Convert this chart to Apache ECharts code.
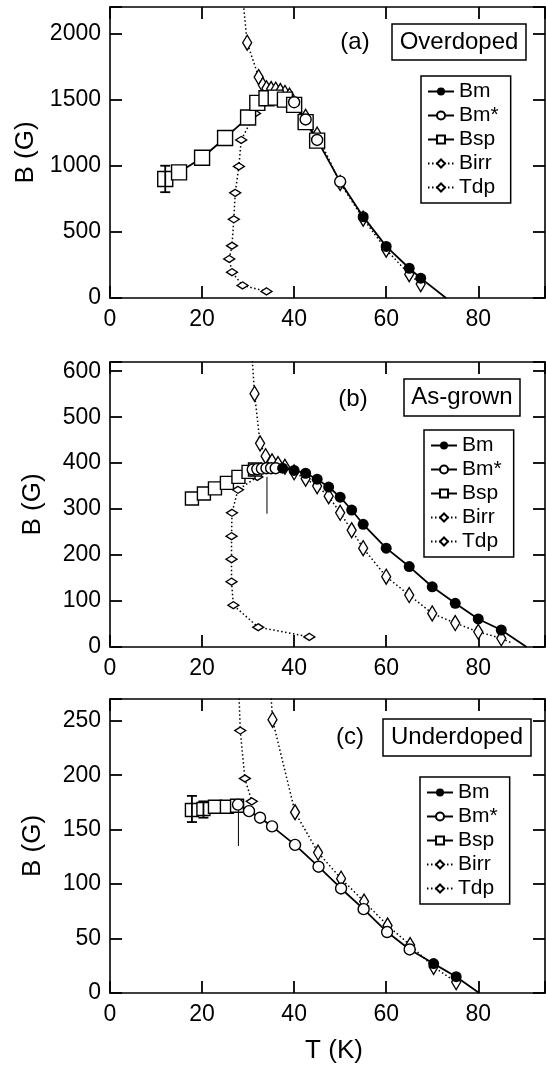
<!DOCTYPE html>
<html>
<head>
<meta charset="utf-8">
<script src="https://cdn.jsdelivr.net/npm/echarts@6/dist/echarts.min.js"></script>
<style>
html, body { margin: 0; padding: 0; background: #fff; }
#chart { width: 546px; height: 1067px; }
</style>
</head>
<body>
<div id="chart"></div>
<script>
// values, points are [T (K), B (G)]
var names = ['Bm', 'Bm*', 'Bsp', 'Birr', 'Tdp'];

// (a) Overdoped
var bmA = [[55, 615], [60, 390], [65, 225], [67.5, 150]];
var bmEndA = [73, 0];
var bmStarA = [[40, 1480], [42.5, 1350], [45, 1195], [50, 880]];
var bspA = [[12, 900], [15, 950], [20, 1060], [25, 1210], [30, 1365], [32, 1475], [34, 1510],
  [36, 1515], [38, 1500], [40, 1460], [42.5, 1330], [45, 1190]];
var bspErrA = [[12, 800, 1000]];
var birrA = [[28.9, 2250], [29.8, 1930], [32.3, 1670], [33.2, 1610], [34, 1585], [35, 1580],
  [36, 1575], [37, 1565], [38, 1550], [39, 1530], [42.5, 1370], [45, 1235], [50, 870],
  [55, 600], [60, 365], [65, 180], [67.5, 105]];
var tdpA = [[31.5, 1395], [28.5, 1195], [28, 995], [27.2, 795], [26.9, 595], [26.5, 395],
  [25.9, 295], [26.5, 195], [28.8, 95], [34, 50]];

// (b) As-grown
var bmB = [[37.5, 389], [40, 384], [42.5, 378], [45, 365], [47.5, 348], [50, 326], [52.5, 298],
  [55, 267], [60, 215], [65, 175], [70, 131], [75, 95], [80, 61], [85, 37]];
var bmEndB = [90.5, 0];
var bmStarB = [[31, 386], [32, 387], [33, 388], [34, 389], [35, 389], [36, 389]];
var bspB = [[17.8, 323], [20.4, 334], [22.8, 345], [25.4, 357], [27.9, 370], [30.1, 381], [31.5, 386]];
var birrB = [[30.8, 640], [31.4, 551], [32.6, 443], [33.8, 415], [35.2, 404], [36.5, 398],
  [38, 392], [40, 380], [42.5, 366], [45, 350], [47.5, 328], [50, 292], [52.5, 254], [55, 215],
  [60, 153], [65, 113], [70, 73], [75, 52], [80, 33], [85, 19]];
var birrEndB = [87, 10];
var tdpB = [[32, 370], [27.8, 342], [26.5, 292], [26.4, 241], [26.4, 191], [26.4, 142],
  [26.8, 91], [32.2, 43], [43.3, 22]];
var arrowB = [[34.1, 370], [34.1, 290]];

// (c) Underdoped
var bmC = [[70.3, 27], [75.2, 15]];
var bmEndC = [80.2, 0];
var bmStarC = [[27.8, 173], [30.2, 167], [32.6, 161], [35.2, 153], [40.2, 136], [45.3, 116],
  [50.2, 96], [55.1, 77], [60.2, 56], [65.1, 40]];
var bspC = [[17.8, 168], [20.3, 169], [22.8, 171], [25.4, 171], [27.6, 172]];
var bspErrC = [[17.8, 157, 181], [20.3, 161, 176]];
var birrC = [[34.6, 300], [35.3, 251], [40.2, 166], [45.2, 129], [50.2, 105], [55.2, 84],
  [60.3, 62], [65.2, 44], [70.3, 24], [75.2, 10]];
var tdpC = [[27.8, 300], [28.3, 241], [29.3, 197], [30.8, 176]];
var arrowC = [[27.9, 168], [27.9, 135]];

var FONT = '"Liberation Sans", Arial, sans-serif';
var XMAX = 94.5;
var TICK = 12;

var panels = [
  { top: 7, height: 291, ymax: 2200, yint: 500, tag: '(a)', label: 'Overdoped',
    tagPos: [355, 42], box: [392, 24, 134, 36], legend: [421, 76],
    bm: bmA, bmEnd: bmEndA, bmStar: bmStarA, bsp: bspA, err: bspErrA,
    birr: birrA, birrEnd: null, tdp: tdpA, arrow: null, sq: 15 },
  { top: 362, height: 285, ymax: 620, yint: 100, tag: '(b)', label: 'As-grown',
    tagPos: [353, 399], box: [404, 379, 116, 37], legend: [424, 430],
    bm: bmB, bmEnd: bmEndB, bmStar: bmStarB, bsp: bspB, err: [],
    birr: birrB, birrEnd: birrEndB, tdp: tdpB, arrow: arrowB, sq: 13 },
  { top: 699, height: 294, ymax: 270, yint: 50, tag: '(c)', label: 'Underdoped',
    tagPos: [350, 737], box: [383, 719, 148, 37], legend: [420, 777],
    bm: bmC, bmEnd: bmEndC, bmStar: bmStarC, bsp: bspC, err: bspErrC,
    birr: birrC, birrEnd: null, tdp: tdpC, arrow: arrowC, sq: 13 }
];

var solid = { color: '#000', width: 1.8 };
var dotted = { color: '#000', width: 1.5, type: [1.5, 2.5] };
var hollow = { color: '#fff', borderColor: '#000', borderWidth: 1.4 };

function axisCommon(showLabel) {
  return {
    type: 'value',
    axisLine: { show: true, onZero: false, lineStyle: { color: '#000', width: 1.6 } },
    axisTick: { show: false },
    axisLabel: {
      show: showLabel, color: '#000', fontSize: 23, fontFamily: FONT, showMaxLabel: false,
      formatter: function (v) { return String(v); }
    },
    splitLine: { show: false }
  };
}

// a bare axis pulled TICK px into the plot; its outward ticks end on the frame,
// which gives the inward ticks of the original
function tickAxis(gi, pos, max, interval) {
  return {
    type: 'value', gridIndex: gi, position: pos, offset: -TICK,
    min: 0, max: max, interval: interval,
    axisLine: { show: false, onZero: false },
    axisTick: { show: true, inside: false, length: TICK, lineStyle: { color: '#000', width: 1.8 } },
    axisLabel: { show: false },
    splitLine: { show: false }
  };
}

function seg(x1, y1, x2, y2) {
  return { type: 'line', shape: { x1: x1, y1: y1, x2: x2, y2: y2 },
    style: { stroke: '#000', lineWidth: 1.8 } };
}

var grid = [], xAxis = [], yAxis = [], series = [], legend = [], graphic = [];

panels.forEach(function (p, i) {
  grid.push({ left: 110, width: 435, top: p.top, height: p.height });

  var xi = xAxis.length, yi = yAxis.length;

  ['bottom', 'top'].forEach(function (pos) {
    var ax = axisCommon(pos === 'bottom');
    ax.gridIndex = i; ax.position = pos;
    ax.min = 0; ax.max = XMAX; ax.interval = 20;
    ax.axisLabel.margin = 10;
    if (pos === 'bottom' && i === 2) {
      ax.name = 'T (K)';
      ax.nameLocation = 'middle';
      ax.nameGap = 45;
      ax.nameTextStyle = { color: '#000', fontSize: 26, fontFamily: FONT, padding: [0, 0, 0, 13] };
    }
    xAxis.push(ax);
  });
  xAxis.push(tickAxis(i, 'bottom', XMAX, 20));
  xAxis.push(tickAxis(i, 'top', XMAX, 20));

  ['left', 'right'].forEach(function (pos) {
    var ax = axisCommon(pos === 'left');
    ax.gridIndex = i; ax.position = pos;
    ax.min = 0; ax.max = p.ymax; ax.interval = p.yint;
    ax.axisLabel.margin = 9;
    if (pos === 'left') {
      ax.name = 'B (G)';
      ax.nameLocation = 'middle';
      ax.nameGap = 64;
      ax.nameTextStyle = { color: '#000', fontSize: 26, fontFamily: FONT };
    }
    yAxis.push(ax);
  });
  yAxis.push(tickAxis(i, 'left', p.ymax, p.yint));
  yAxis.push(tickAxis(i, 'right', p.ymax, p.yint));

  function line(name, data, lineStyle, symbol, size, itemStyle) {
    return {
      type: 'line', name: name, xAxisIndex: xi, yAxisIndex: yi, data: data,
      symbol: symbol, symbolSize: size, showAllSymbol: true,
      lineStyle: lineStyle, itemStyle: itemStyle, clip: true, z: 3
    };
  }
  var noSym = function (v) { return { value: v, symbol: 'none' }; };

  var birrData = p.birr.slice();
  if (p.birrEnd) birrData.push(noSym(p.birrEnd));
  var bmData = [noSym(p.bmStar[p.bmStar.length - 1])].concat(p.bm, [noSym(p.bmEnd)]);

  series.push(line('Tdp', p.tdp, dotted, 'diamond', [11, 7], hollow));
  series.push(line('Birr', birrData, dotted, 'diamond', [9, 15], hollow));
  series.push(line('Bsp', p.bsp, solid, 'rect', p.sq, hollow));
  series.push(line('Bm*', p.bmStar, solid, 'circle', 11, hollow));
  series.push(line('Bm', bmData, solid, 'circle', 11, { color: '#000' }));

  if (p.err.length) {
    series.push({
      type: 'custom', xAxisIndex: xi, yAxisIndex: yi, data: p.err, z: 4,
      renderItem: function (params, api) {
        var lo = api.coord([api.value(0), api.value(1)]);
        var hi = api.coord([api.value(0), api.value(2)]);
        return { type: 'group', children: [
          seg(lo[0], lo[1], hi[0], hi[1]),
          seg(lo[0] - 5, lo[1], lo[0] + 5, lo[1]),
          seg(hi[0] - 5, hi[1], hi[0] + 5, hi[1])
        ] };
      }
    });
  }
  if (p.arrow) {
    series.push({
      type: 'line', xAxisIndex: xi, yAxisIndex: yi, data: p.arrow, symbol: 'none',
      lineStyle: { color: '#000', width: 1 }, z: 5
    });
  }

  legend.push({
    data: names, orient: 'vertical', left: p.legend[0], top: p.legend[1],
    selectedMode: false, itemWidth: 26, itemHeight: 10, itemGap: 3,
    padding: [5, 12, 5, 6], borderColor: '#000', borderWidth: 1.5,
    textStyle: { color: '#000', fontSize: 21, fontFamily: FONT, lineHeight: 21 }
  });

  graphic.push({
    type: 'text', x: p.tagPos[0], y: p.tagPos[1],
    style: { text: p.tag, font: '24px ' + FONT, fill: '#000', align: 'center', verticalAlign: 'middle' }
  });
  graphic.push({
    type: 'rect', shape: { x: p.box[0], y: p.box[1], width: p.box[2], height: p.box[3] },
    style: { fill: 'none', stroke: '#000', lineWidth: 1.5 }
  });
  graphic.push({
    type: 'text', x: p.box[0] + p.box[2] / 2, y: p.box[1] + p.box[3] / 2,
    style: { text: p.label, font: '24px ' + FONT, fill: '#000', align: 'center', verticalAlign: 'middle' }
  });
});

var chart = echarts.init(document.getElementById('chart'));
chart.setOption({
  animation: false,
  backgroundColor: '#fff',
  grid: grid,
  xAxis: xAxis,
  yAxis: yAxis,
  legend: legend,
  graphic: graphic,
  series: series
});
</script>
</body>
</html>
